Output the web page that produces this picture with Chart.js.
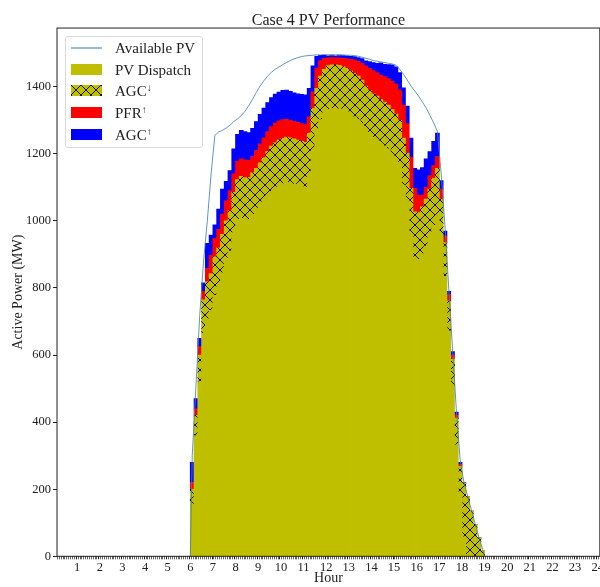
<!DOCTYPE html>
<html>
<head>
<meta charset="utf-8">
<script src="https://cdn.jsdelivr.net/npm/chart.js@4.4.1/dist/chart.umd.min.js"></script>
<style>
html, body { margin: 0; padding: 0; background: #fff; overflow: hidden; }
#wrap { position: relative; width: 605px; height: 587px; }
#legend {
    position: absolute; left: 65px; top: 36px; width: 138px; height: 112px;
    box-sizing: border-box; border: 1px solid #d9d9d9; border-radius: 3px;
    background: rgba(255,255,255,0.85);
    font-family: "Liberation Serif", serif; font-size: 15px; color: #222;
}
.row { position: absolute; left: 0; width: 100%; height: 22px; }
.sw { position: absolute; left: 5px; top: 5px; width: 31px; height: 11px; }
.sw.line { top: 10px; height: 2px; }
.lab { position: absolute; left: 49px; top: 0; line-height: 22px; white-space: nowrap; }
.lab sup { font-size: 10px; vertical-align: 5px; line-height: 0; }
</style>
</head>
<body>
<div id="wrap">
    <canvas id="chart" width="605" height="587"></canvas>
    <div id="legend"></div>
</div>
<script>
//bar centres, hours (10 minute bars from 6:05 to 18:55)
var hours = [];
for(var k = 0; k < 78; k++){
    hours.push(6 + (2 * k + 1) / 12);
}
//available PV line also touches zero at 6:00 and 19:00
var lineHours = [6].concat(hours, [19]);

//MW
var pvDispatch = [200, 420, 600, 765, 818, 843, 893, 920, 960, 1000,
    1030, 1085, 1123, 1133, 1129, 1130, 1143, 1157, 1173, 1188,
    1207, 1223, 1233, 1241, 1246, 1250, 1248, 1245, 1241, 1237,
    1234, 1262, 1335, 1395, 1432, 1452, 1463, 1465, 1465, 1464,
    1460, 1455, 1447, 1440, 1432, 1420, 1402, 1389, 1379, 1372,
    1362, 1354, 1345, 1332, 1319, 1300, 1247, 1202, 1097, 1027,
    1025, 1042, 1065, 1095, 1127, 1157, 1065, 935, 762, 588,
    412, 268, 218, 178, 135, 95, 55, 18];
var agcDown = [45, 60, 80, 100, 110, 110, 115, 115, 115, 115,
    120, 120, 120, 125, 125, 125, 125, 130, 130, 130,
    130, 135, 135, 135, 135, 135, 135, 135, 135, 135,
    135, 130, 125, 125, 130, 130, 130, 130, 130, 130,
    130, 130, 130, 130, 130, 130, 130, 130, 130, 130,
    130, 130, 130, 135, 135, 135, 140, 140, 140, 140,
    140, 140, 140, 140, 140, 140, 110, 100, 90, 80,
    80, 80, 160, 178, 135, 95, 55, 18];
var pfrUp = [20, 20, 25, 25, 40, 55, 55, 55, 60, 60,
    60, 55, 55, 52, 53, 50, 49, 53, 57, 60,
    59, 58, 59, 57, 56, 53, 52, 52, 53, 53,
    53, 48, 50, 60, 46, 33, 23, 22, 21, 22,
    25, 29, 35, 40, 44, 50, 60, 66, 69, 70,
    73, 76, 79, 85, 89, 90, 98, 88, 93, 70,
    52, 35, 35, 40, 38, 35, 30, 20, 18, 12,
    10, 6, 1, 0, 0, 0, 0, 0];
var agcUp = [60, 30, 25, 25, 75, 60, 40, 60, 75, 58,
    60, 75, 80, 85, 84, 83, 84, 86, 88, 88,
    87, 87, 86, 86, 87, 87, 86, 85, 85, 87,
    89, 85, 77, 36, 16, 9, 6, 6, 6, 7,
    8, 8, 9, 10, 11, 14, 15, 20, 24, 28,
    36, 37, 42, 48, 51, 52, 52, 52, 57, 60,
    75, 82, 85, 72, 72, 70, 25, 15, 10, 10,
    8, 6, 1, 0, 0, 0, 0, 0];
var availablePV = [0, 300, 510, 720, 880, 1000, 1140, 1255, 1265, 1270, 1277,
    1285, 1296, 1304, 1314, 1327, 1344, 1363, 1383, 1402, 1418,
    1432, 1443, 1452, 1459, 1466, 1472, 1478, 1483, 1487, 1490,
    1492, 1493, 1494, 1495, 1495, 1496, 1495, 1496, 1495, 1496,
    1495, 1494, 1494, 1493, 1491, 1488, 1485, 1482, 1478, 1476,
    1474, 1472, 1470, 1468, 1464, 1452, 1437, 1420, 1402, 1387,
    1372, 1355, 1337, 1315, 1292, 1267, 1140, 985, 800, 620,
    440, 290, 222, 180, 138, 97, 57, 20, 0];

var yTicks = [0, 200, 400, 600, 800, 1000, 1200, 1400];

var OLIVE = "#bfbf00";
var SERIF = "Liberation Serif";

//crosshatch used for AGC down
function makeHatch(){
    var c = document.createElement("canvas");
    c.width = 10;
    c.height = 10;
    var g = c.getContext("2d");
    g.fillStyle = OLIVE;
    g.fillRect(0, 0, 10, 10);
    g.strokeStyle = "rgba(0,0,0,0.9)";
    g.lineWidth = 1;
    g.beginPath();
    g.moveTo(-1, -1); g.lineTo(11, 11);
    g.moveTo(11, -1); g.lineTo(-1, 11);
    g.stroke();
    return c;
}
var hatchCanvas = makeHatch();
var hatch = document.getElementById("chart").getContext("2d").createPattern(hatchCanvas, "repeat");

//x runs in 5 minute slots, so hour h sits at 12*h
function barPoints(values){
    var pts = [];
    for(var i = 0; i < hours.length; i++){
        pts.push({x: Math.round(hours[i] * 12), y: values[i]});
    }
    return pts;
}
var plainDispatch = pvDispatch.map(function(v, i){ return v - agcDown[i]; });
var linePts = lineHours.map(function(h, i){ return {x: h * 12, y: availablePV[i]}; });

var framePlugin = {
    id: "frame",
    afterDraw: function(chart){
        var a = chart.chartArea;
        var ctx = chart.ctx;
        ctx.save();
        ctx.strokeStyle = "#222";
        ctx.lineWidth = 1;
        ctx.strokeRect(a.left, a.top, a.right - a.left, a.bottom - a.top);
        ctx.restore();
    }
};

var tickFont = {family: SERIF, size: 12.5};

var currentChart = new Chart(document.getElementById("chart"), {
    type: "bar",
    data: {
        datasets: [{
            type: "line",
            label: "Available PV",
            data: linePts,
            stack: "avail",
            order: 0,
            borderColor: "rgba(70,130,180,0.85)",
            borderWidth: 1,
            pointRadius: 0,
            tension: 0,
            fill: false
        }, {
            label: "PV Dispatch",
            data: barPoints(plainDispatch),
            backgroundColor: OLIVE,
            order: 1
        }, {
            label: "AGC↓",
            data: barPoints(agcDown),
            backgroundColor: hatch,
            order: 1
        }, {
            label: "PFR↑",
            data: barPoints(pfrUp),
            backgroundColor: "#ff0000",
            order: 1
        }, {
            label: "AGC↑",
            data: barPoints(agcUp),
            backgroundColor: "#0000ff",
            order: 1
        }]
    },
    options: {
        responsive: false,
        animation: false,
        datasets: {
            bar: {barThickness: 4, borderWidth: 0}
        },
        layout: {padding: 0},
        plugins: {
            legend: {display: false},
            tooltip: {enabled: false},
            title: {
                display: true,
                fullSize: false,
                text: "Case 4 PV Performance",
                color: "#222",
                font: {family: SERIF, size: 16, weight: "normal", lineHeight: 0.94},
                padding: {top: 13, bottom: 0}
            }
        },
        scales: {
            x: {
                type: "linear",
                stacked: true,
                min: 1.8,
                max: 288.6,
                border: {display: false},
                grid: {drawOnChartArea: false, tickLength: 3, tickColor: "#222",
                    tickWidth: function(c){ return c.tick && c.tick.value % 12 === 0 ? 1 : 0.7; }},
                ticks: {
                    stepSize: 1,
                    autoSkip: false,
                    includeBounds: false,
                    maxRotation: 0,
                    minRotation: 0,
                    padding: 1,
                    color: "#222",
                    font: tickFont,
                    callback: function(v){ return v % 12 === 0 ? String(v / 12) : ""; }
                },
                title: {display: true, text: "Hour", color: "#222",
                    font: {family: SERIF, size: 14}, padding: {top: 0, bottom: 0}},
                afterFit: function(s){ s.height = 30.7; }
            },
            y: {
                stacked: true,
                min: 0,
                max: 1575,
                border: {display: false},
                grid: {drawOnChartArea: false, tickLength: 4, tickColor: "#222"},
                ticks: {padding: 2, color: "#222", font: tickFont,
                    callback: function(v){ return String(v); }},
                afterBuildTicks: function(s){
                    s.ticks = yTicks.map(function(v){ return {value: v}; });
                },
                title: {display: true, text: "Active Power (MW)", color: "#222",
                    font: {family: SERIF, size: 14}, padding: {top: 10, bottom: 0}},
                afterFit: function(s){ s.width = 57; }
            }
        }
    },
    plugins: [framePlugin]
});

//legend box drawn over the plot, top left
function buildLegend(){
    var box = document.getElementById("legend");
    var sets = currentChart.data.datasets;
    var tops = [0, 22, 43, 65, 87];
    for(var i = 0; i < sets.length; i++){
        var row = document.createElement("div");
        row.className = "row";
        row.style.top = tops[i] + "px";
        var sw = document.createElement("div");
        sw.className = "sw";
        if(sets[i].type === "line"){
            sw.className += " line";
            sw.style.background = "rgba(70,130,180,0.55)";
        } else if(sets[i].backgroundColor === hatch){
            sw.style.backgroundImage = "url(" + hatchCanvas.toDataURL() + ")";
        } else {
            sw.style.background = sets[i].backgroundColor;
        }
        var lab = document.createElement("div");
        lab.className = "lab";
        var text = sets[i].label;
        var last = text.charAt(text.length - 1);
        if(last === "↑" || last === "↓"){
            lab.innerHTML = text.slice(0, -1) + "<sup>" + last + "</sup>";
        } else {
            lab.textContent = text;
        }
        row.appendChild(sw);
        row.appendChild(lab);
        box.appendChild(row);
    }
}
buildLegend();
</script>
</body>
</html>
